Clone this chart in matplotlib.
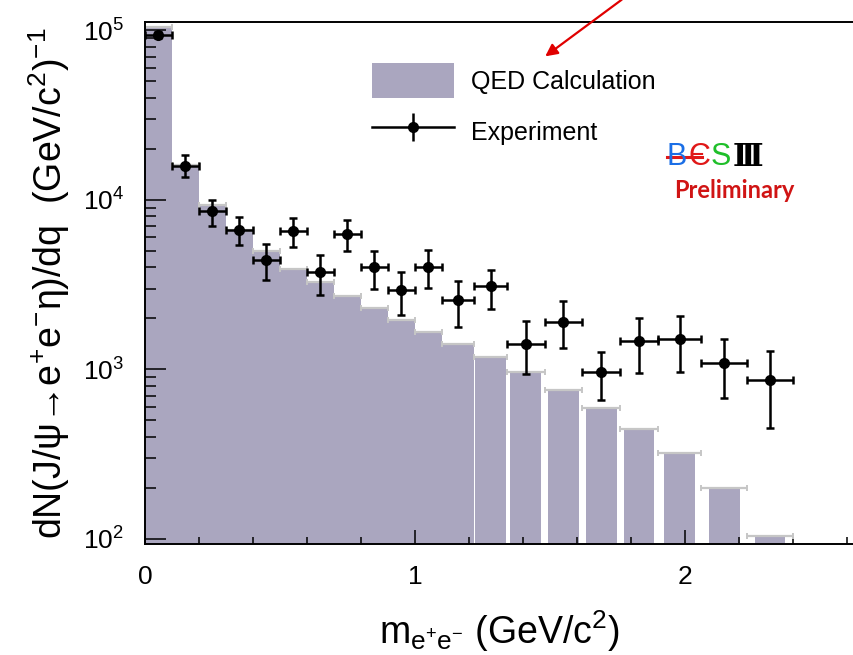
import numpy as np
import matplotlib
matplotlib.use("Agg")
import matplotlib.pyplot as plt
from matplotlib.ticker import MultipleLocator, LogLocator, NullFormatter
from matplotlib.patches import Patch, FancyArrowPatch
from matplotlib.lines import Line2D
from matplotlib.legend_handler import HandlerTuple

plt.rcParams['font.family'] = ['Liberation Sans', 'DejaVu Sans']
plt.rcParams['mathtext.fontset'] = 'custom'
plt.rcParams['mathtext.rm'] = 'Liberation Sans'
plt.rcParams['mathtext.it'] = 'Liberation Sans:italic'
plt.rcParams['mathtext.default'] = 'regular'

# ---- data ----
bin_edges = [0.0, 0.1, 0.2, 0.3, 0.4, 0.5, 0.6, 0.7, 0.8, 0.9, 1.0, 1.1,
             1.22, 1.34, 1.48, 1.62, 1.76, 1.9, 2.06, 2.23, 2.4]
qed_values = [1.04e5, 1.6e4, 9.3e3, 6.6e3, 4.98e3, 3.92e3, 3.27e3, 2.72e3,
              2.31e3, 1.96e3, 1.66e3, 1.41e3, 1.18e3, 961, 755, 589, 447,
              321, 200, 104]
exp_values = [9.4e4, 1.58e4, 8.57e3, 6.68e3, 4.4e3, 6.53e3, 3.76e3, 6.3e3,
              4.03e3, 2.95e3, 4.03e3, 2.58e3, 3.09e3, 1.42e3, 1.91e3, 961,
              1.48e3, 1.52e3, 1.09e3, 861]
exp_high = [9.8e4, 1.83e4, 1.0e4, 7.9e3, 5.46e3, 7.77e3, 4.75e3, 7.66e3,
            4.98e3, 3.76e3, 5.05e3, 3.34e3, 3.88e3, 1.92e3, 2.52e3, 1.27e3,
            2.01e3, 2.07e3, 1.51e3, 1.28e3]
exp_low = [9.0e4, 1.36e4, 7.06e3, 5.4e3, 3.36e3, 5.24e3, 2.76e3, 4.98e3,
           2.98e3, 2.1e3, 3.03e3, 1.79e3, 2.28e3, 940, 1.34e3, 656,
           953, 961, 678, 454]
x_ticks = [0, 1, 2]
legend_labels = ["QED Calculation", "Experiment"]

edges = np.array(bin_edges)
left = edges[:-1]
widths = np.diff(edges)
centers = left + widths / 2
qed = np.array(qed_values)
ev = np.array(exp_values)
eh = np.array(exp_high) - ev
el = ev - np.array(exp_low)

fill_color = '#aaa6bf'

fig = plt.figure(figsize=(8.54, 6.55), dpi=100)
ax = fig.add_axes([145/854, 1-544/655, 1-145/854, (544-22)/655])

# histogram fill: contiguous at low mass, separated boxes at high mass
sep = left >= 1.21
fw = np.where(sep, np.minimum(widths, 0.12) - 0.006, widths)
fl = centers - fw / 2
ax.bar(fl, qed, width=fw, bottom=1, align='edge', color=fill_color,
       edgecolor='none', linewidth=0, zorder=1)
ax.errorbar(centers, qed, xerr=widths / 2, fmt='none', ecolor='#c6c6c6',
            elinewidth=1.6, capsize=2.5, capthick=1.4, zorder=2)

# experiment points
ax.errorbar(centers, ev, yerr=[el, eh], xerr=widths / 2, fmt='o', color='black',
            markersize=7, elinewidth=1.8, capsize=3, capthick=1.8, zorder=3)

ax.set_yscale('log')
ax.set_xlim(0, (854-145)/270)
ax.set_ylim(10**(2 - 5/169.3), 10**(5 + 8.3/169.3))

ax.set_xticks(x_ticks)
ax.set_xticklabels([str(t) for t in x_ticks])
ax.xaxis.set_minor_locator(MultipleLocator(0.2))
ax.yaxis.set_major_locator(LogLocator(base=10, numticks=10))
ax.yaxis.set_minor_locator(LogLocator(base=10, subs=np.arange(2, 10), numticks=20))
ax.yaxis.set_minor_formatter(NullFormatter())

ax.tick_params(axis='both', which='both', direction='in', top=False, right=False,
               labelsize=19, width=1.1)
ax.tick_params(axis='x', which='major', length=10, pad=15)
ax.tick_params(axis='x', which='minor', length=5)
ax.tick_params(axis='y', which='major', length=15, pad=15)
ax.tick_params(axis='y', which='minor', length=8)

for s in ['top', 'left', 'bottom']:
    ax.spines[s].set_linewidth(1.4)
ax.spines['right'].set_visible(False)

ax.set_xlabel(r"m$_{e^{+}e^{-}}$ (GeV/c$^{2}$)", fontsize=27, labelpad=14)
ax.set_ylabel(r"dN(J/ψ→e$^{+}$e$^{-}$η)/dq  (GeV/c$^{2}$)$^{-1}$", fontsize=27,
              labelpad=8)

# legend
h_qed = Patch(facecolor=fill_color, edgecolor='none')
h_line = Line2D([], [], color='black', lw=1.8, marker='o', markersize=7)
h_vbar = Line2D([], [], color='black', lw=0, marker='|', markersize=20,
                markeredgewidth=1.8)
ax.legend([h_qed, (h_line, h_vbar)], legend_labels,
          handler_map={tuple: HandlerTuple(ndivide=1)},
          loc='upper left', bbox_to_anchor=((372-145)/709, (544-63)/522),
          frameon=False, fontsize=18, handlelength=3.3, handleheight=1.8,
          labelspacing=0.62, handletextpad=0.65, borderpad=0, borderaxespad=0)

# BESIII logo and Preliminary
def fx(px):
    return px / 854
def fy(py):
    return 1 - py / 655

logo_kw = dict(fontsize=22, ha='center', va='center')
fig.text(fx(677), fy(157), "B", color='#1a6ee6', **logo_kw)
fig.text(fx(699), fy(157), "Є", color='#e01818', **logo_kw)
fig.text(fx(721), fy(157), "S", color='#1fbf2a', **logo_kw)
fig.text(fx(748), fy(157), "Ⅲ", color='black', fontsize=22, ha='center',
         va='center', family=['DejaVu Serif', 'DejaVu Sans'], fontweight='bold')
fig.add_artist(Line2D([fx(667), fx(702)], [fy(157), fy(157)], color='#e01818',
                      lw=2.2, transform=fig.transFigure))
fig.text(fx(734), fy(191), "Preliminary", color='#d01414', fontsize=17,
         ha='center', va='center', fontweight='bold',
         family=['Lato', 'Open Sans', 'DejaVu Sans'])

# red arrow
fig.add_artist(FancyArrowPatch(
    (fx(624), fy(-2)), (fx(543), fy(58)), transform=fig.transFigure,
    arrowstyle='-|>', mutation_scale=18, color='#e00000', lw=1.6))

fig.savefig("out.png", dpi=100)
